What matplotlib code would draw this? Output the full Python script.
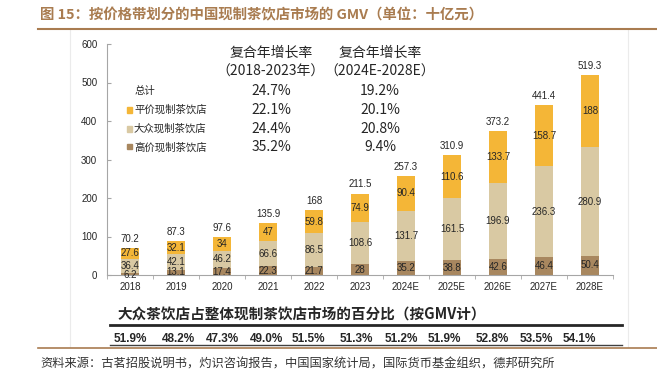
import matplotlib
matplotlib.use('Agg')
import matplotlib.pyplot as plt
from matplotlib.patches import Rectangle
from matplotlib.lines import Line2D
import numpy as np

plt.rcParams['font.family'] = ['Liberation Sans', 'Noto Sans CJK SC']

years = ['2018', '2019', '2020', '2021', '2022', '2023', '2024E', '2025E', '2026E', '2027E', '2028E']
high_end = [6.2, 13.1, 17.4, 22.3, 21.7, 28, 35.2, 38.8, 42.6, 46.4, 50.4]
mass = [36.4, 42.1, 46.2, 66.6, 86.5, 108.6, 131.7, 161.5, 196.9, 236.3, 280.9]
affordable = [27.6, 32.1, 34, 47, 59.8, 74.9, 90.4, 110.6, 133.7, 158.7, 188]
totals = [70.2, 87.3, 97.6, 135.9, 168, 211.5, 257.3, 310.9, 373.2, 441.4, 519.3]
mass_share = ['51.9%', '48.2%', '47.3%', '49.0%', '51.5%', '51.3%', '51.2%', '51.9%', '52.8%', '53.5%', '54.1%']

series_names = ['总计', '平价现制茶饮店', '大众现制茶饮店', '高价现制茶饮店']
cagr_hist = ['24.7%', '22.1%', '24.4%', '35.2%']
cagr_fcst = ['19.2%', '20.1%', '20.8%', '9.4%']

c_aff = '#F4B637'
c_mass = '#D9C9A3'
c_high = '#A8875F'
brown = '#A97C50'
CJK = ['Noto Sans CJK SC']

W, H = 657, 380
fig = plt.figure(figsize=(W / 100, H / 100), dpi=100)


def fx(x):
    return x / W


def fy(y):
    return 1 - y / H


# faint frame around the chart block
fig.add_artist(Line2D([fx(70), fx(70)], [fy(30), fy(347)], color='#EBEBEB', lw=0.8))
fig.add_artist(Line2D([fx(628), fx(628)], [fy(30), fy(347)], color='#EBEBEB', lw=0.8))

ax = fig.add_axes([fx(107), fy(275), fx(613) - fx(107), fy(44) - fy(275)])
x = np.arange(len(years))
bw = 0.41
ax.bar(x, high_end, bw, color=c_high, zorder=2)
ax.bar(x, mass, bw, bottom=high_end, color=c_mass, zorder=2)
bottom2 = np.array(high_end) + np.array(mass)
ax.bar(x, affordable, bw, bottom=bottom2, color=c_aff, zorder=2)

for i in range(len(years)):
    # too thin a segment: the label sits on the axis line
    y_low = high_end[i] / 2 if high_end[i] >= 10 else 0
    ax.text(x[i], y_low, f'{high_end[i]:g}', ha='center', va='center', fontsize=7, color='#262626', zorder=3)
    ax.text(x[i], high_end[i] + mass[i] / 2, f'{mass[i]:g}', ha='center', va='center', fontsize=7, color='#262626', zorder=3)
    ax.text(x[i], bottom2[i] + affordable[i] / 2, f'{affordable[i]:g}', ha='center', va='center', fontsize=7, color='#262626', zorder=3)
    ax.annotate(f'{totals[i]:g}', (x[i], totals[i]), xytext=(0, 3), textcoords='offset points',
                ha='center', va='bottom', fontsize=7, color='#262626')

ax.set_xlim(-0.5, len(years) - 0.5)
ax.set_ylim(0, 600)
ax.set_yticks(range(0, 601, 100))
ax.set_xticks(x)
ax.set_xticklabels(years)
ax.set_xticks(np.arange(-0.5, len(years), 1), minor=True)
ax.tick_params(axis='x', which='major', length=0, pad=5, labelsize=7, colors='#262626')
ax.tick_params(axis='x', which='minor', length=3, direction='out', color='#A6A6A6')
ax.tick_params(axis='y', length=3, direction='in', pad=7, labelsize=7, colors='#262626')
ax.tick_params(axis='y', color='#A6A6A6')
for s in ['top', 'right']:
    ax.spines[s].set_visible(False)
for s in ['left', 'bottom']:
    ax.spines[s].set_color('#A6A6A6')
    ax.spines[s].set_linewidth(0.8)

# legend block with CAGR columns
rows_y = [91, 110, 129, 147]
fig.text(fx(135), fy(rows_y[0]), series_names[0], family=CJK, fontsize=7.5, va='center', color='#262626')
for name, col, yy in zip(series_names[1:], [c_aff, c_mass, c_high], rows_y[1:]):
    fig.add_artist(Rectangle((fx(127), fy(yy + 2.5)), fx(5), 5 / H, color=col))
    fig.text(fx(134), fy(yy), name, family=CJK, fontsize=7.5, va='center', color='#262626')

fig.text(fx(271), fy(53), '复合年增长率', family=CJK, fontsize=10, ha='center', va='center', color='#262626')
fig.text(fx(271), fy(72), '（2018-2023年）', family=CJK, fontsize=10, ha='center', va='center', color='#262626')
fig.text(fx(380), fy(53), '复合年增长率', family=CJK, fontsize=10, ha='center', va='center', color='#262626')
fig.text(fx(380), fy(72), '（2024E-2028E）', family=CJK, fontsize=10, ha='center', va='center', color='#262626')
for v1, v2, yy in zip(cagr_hist, cagr_fcst, rows_y):
    fig.text(fx(271), fy(yy), v1, family=CJK, fontsize=10, ha='center', va='center', color='#262626')
    fig.text(fx(380), fy(yy), v2, family=CJK, fontsize=10, ha='center', va='center', color='#262626')

# title
fig.text(fx(40), fy(15), '图 15：按价格带划分的中国现制茶饮店市场的 GMV（单位：十亿元）', family=CJK,
         fontsize=10.4, fontweight='bold', color=brown, va='center')
fig.add_artist(Line2D([fx(38), 1], [fy(29), fy(29)], color=brown, lw=1.5))

# share table under the chart
fig.text(fx(117), fy(315), '大众茶饮店占整体现制茶饮店市场的百分比（按GMV计）', family=CJK,
         fontsize=10.5, fontweight='bold', color='#262626', va='center')
fig.add_artist(Line2D([fx(110), fx(622)], [fy(325), fy(325)], color='#262626', lw=2))
share_x = [130, 178, 222, 266, 308, 356, 401, 444, 492, 536, 579]
for sx, s in zip(share_x, mass_share):
    fig.text(fx(sx), fy(339), s, fontsize=8.5, fontweight='bold', ha='center', va='center', color='#262626')
fig.add_artist(Line2D([fx(110), fx(622)], [fy(345), fy(345)], color='#404040', lw=1))
fig.add_artist(Line2D([fx(38), 1], [fy(347.5), fy(347.5)], color=brown, lw=1.2))

fig.text(fx(40), fy(364), '资料来源：古茗招股说明书，灼识咨询报告，中国国家统计局，国际货币基金组织，德邦研究所',
         family=CJK, fontsize=8.8, color='#333333', va='center')

fig.savefig('out.png', dpi=100)
